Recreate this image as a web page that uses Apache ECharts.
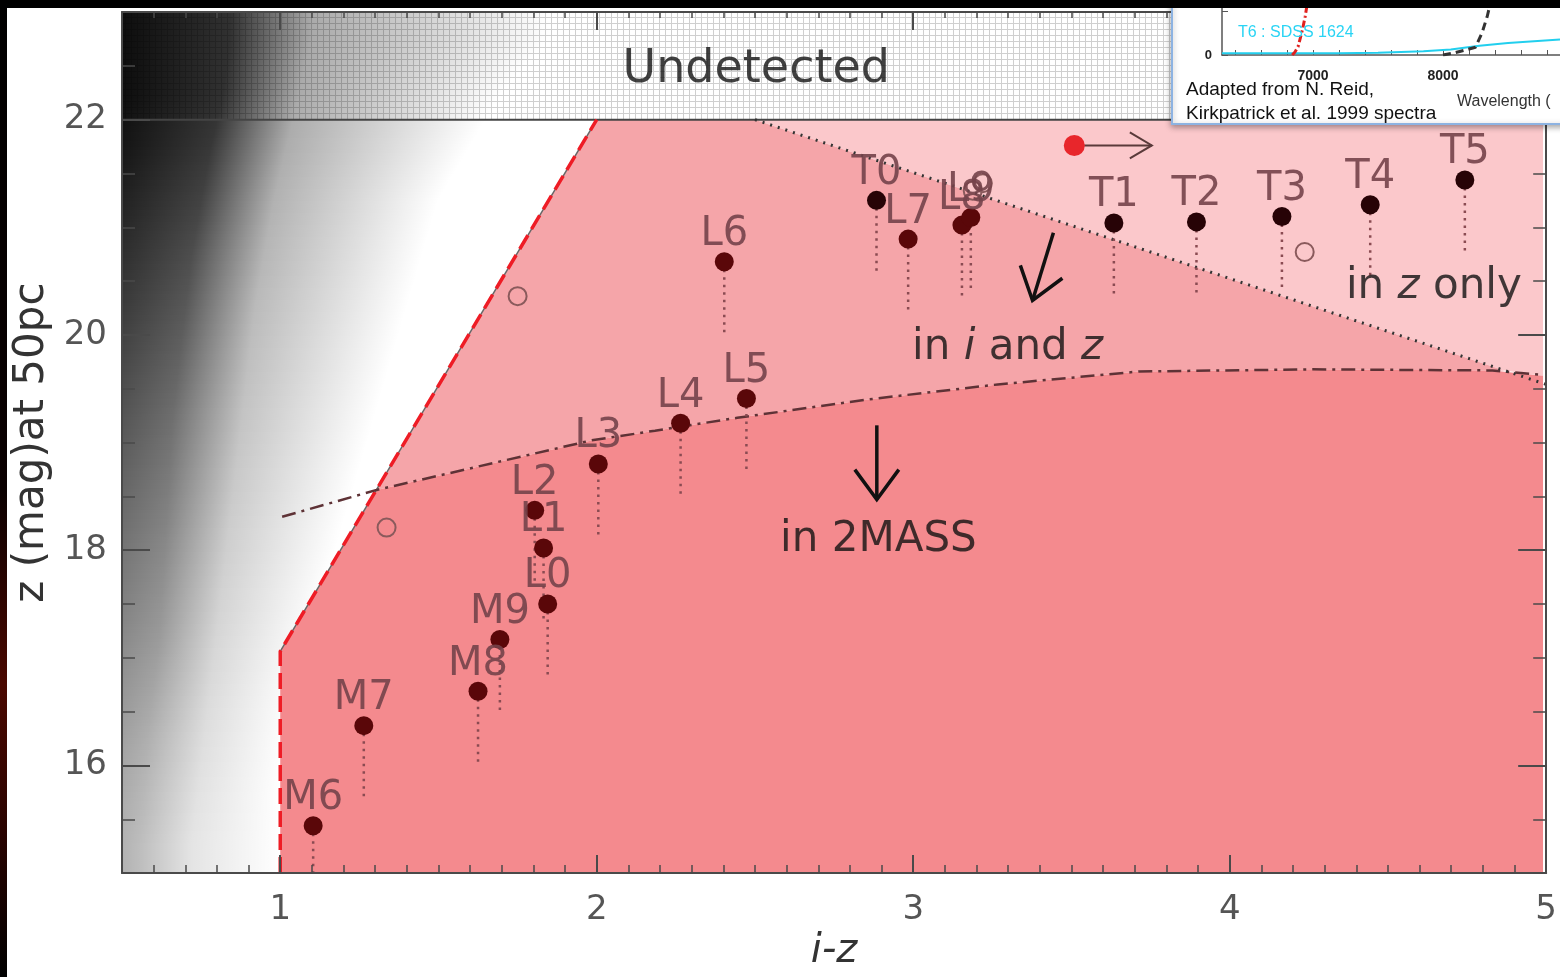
<!DOCTYPE html>
<html><head><meta charset="utf-8">
<script src="https://cdn.jsdelivr.net/npm/echarts@6/dist/echarts.min.js"></script>
<style>html,body{margin:0;padding:0;background:#fff;overflow:hidden;width:100%;height:100%}#c{width:100vw;height:100vh;}</style>
</head><body><div id="c"></div>
<script>
// ---------------- data ----------------
const xTickValues = [1, 2, 3, 4, 5];
const yTickValues = [16, 18, 20, 22];

// M and L dwarfs: i-z, z at 50pc, bottom of dotted drop
const mlNames = ['M6','M7','M8','M9','L0','L1','L2','L3','L4','L5','L6','L7','L8','L9'];
const mlIZ    = [1.104,1.264,1.625,1.694,1.845,1.832,1.804,2.005,2.265,2.473,2.403,2.984,3.154,3.182];
const mlZ     = [15.44,16.37,16.69,17.17,17.50,18.02,18.37,18.80,19.18,19.41,20.68,20.89,21.02,21.09];
const mlZLow  = [14.76,15.69,16.01,16.49,16.82,17.34,17.69,18.12,18.50,18.73,20.00,20.21,20.34,20.41];
// T dwarfs
const tNames = ['T0','T1','T2','T3','T4','T5'];
const tIZ    = [2.884,3.634,3.895,4.165,4.444,4.743];
const tZ     = [21.25,21.04,21.05,21.10,21.21,21.44];
const tZLow  = [20.57,20.36,20.37,20.42,20.53,20.76];
// open circles
const openIZ = [1.336,1.750,3.188,3.220,4.237];
const openZ  = [18.21,20.36,21.34,21.41,20.77];
// red point with arrow
const redIZ = [3.509];
const redZ  = [21.76];

// region boundaries
const detectBoundary = [[1.0,15.0],[1.0,17.06],[2.0,22.0]];
const diagBoundary = [[1.0,17.06],[2.0,22.0]];
const twoMassCurve = [[1.006,18.31],[1.305,18.56],[1.983,19.02],[2.184,19.11],[2.444,19.23],[2.856,19.40],[3.267,19.54],[3.713,19.66],[4.256,19.68],[4.830,19.67],[4.981,19.63]];
const zOnlyLine = [[2.5,22.0],[5.0,19.54]];
const undetectedLimit = [[0.5,22.0],[5.0,22.0]];
const regionDark = [[1.0,15.0],[1.0,17.06],[1.305,18.56],[1.983,19.02],[2.184,19.11],[2.444,19.23],[2.856,19.40],[3.267,19.54],[3.713,19.66],[4.256,19.68],[4.830,19.67],[4.99,19.62],[4.99,15.0]];
const regionMid = [[1.305,18.56],[2.0,22.0],[2.5,22.0],[4.868,19.67],[4.830,19.67],[4.256,19.68],[3.713,19.66],[3.267,19.54],[2.856,19.40],[2.444,19.23],[2.184,19.11],[1.983,19.02]];
const regionLight = [[2.5,22.0],[4.99,22.0],[4.99,19.62],[4.868,19.67]];
const regionUndetected = [[0.5,22.0],[5.0,23.0]];

// field-star density (band centres in z; x where the density falls off)
const starZ    = [15.25,15.75,16.25,16.75,17.25,17.75,18.25,18.75,19.25,19.75,20.25,20.75,21.25,21.75,22.25,22.75];
const starPeak = [0.30,0.33,0.37,0.42,0.47,0.52,0.57,0.62,0.67,0.72,0.77,0.82,0.87,0.92,0.95,0.95];
const starDark = [0.56,0.57,0.58,0.60,0.62,0.63,0.64,0.65,0.66,0.68,0.70,0.72,0.75,0.78,0.82,0.84];
const starGray = [0.72,0.74,0.76,0.78,0.80,0.82,0.84,0.86,0.88,0.90,0.92,0.95,0.98,1.02,1.06,1.10];
const starEnd  = [1.00,1.00,1.02,1.05,1.10,1.15,1.20,1.25,1.30,1.35,1.40,1.45,1.50,1.60,1.70,1.85];

// arrows [x1,y1,x2,y2]
const arrowX1 = [3.54, 3.443, 2.885];
const arrowY1 = [21.76, 20.95, 19.16];
const arrowX2 = [3.754, 3.377, 2.885];
const arrowY2 = [21.76, 20.32, 18.47];

// annotations
const annoText = ['Undetected', 'in {it|i} and {it|z}', 'in 2MASS', 'in {it|z} only'];
const annoIZ = [2.504, 3.298, 2.89, 4.645];
const annoZ  = [22.46, 19.88, 18.09, 20.44];

// inset spectrum
const insetXTicks = [6400,6600,6800,7000,7200,7400,7600,7800,8000,8200,8400,8600,8800];
const insetXLabels = [7000, 8000];
const insetYTicks = [0, 0.8];
const insetYLabels = [0];
const specT6 = [[6300,0.03],[6800,0.03],[7200,0.03],[7500,0.04],[7850,0.07],[8060,0.10],[8280,0.17],[8500,0.22],[8900,0.28]];
const specRed = [[6840,0.0],[6860,0.05],[6885,0.15],[6918,0.45],[6940,0.70],[6960,1.0],[6970,1.1]];
const specBlack = [[8000,0.0],[8090,0.04],[8250,0.14],[8300,0.40],[8340,0.70],[8370,1.0],[8380,1.1]];

// ---------------- styles ----------------
const FONT = '"DejaVu Sans", sans-serif';
const AX = '#4a4a4a';
const chart = echarts.init(document.getElementById('c'), null, {renderer: 'canvas'});

const hatch = document.createElement('canvas');
hatch.width = 6; hatch.height = 6;
(function(){
  const g = hatch.getContext('2d');
  g.fillStyle = '#fff'; g.fillRect(0,0,6,6);
  g.fillStyle = '#cfcfcf'; g.fillRect(5,0,1,6); g.fillRect(0,5,6,1);
})();

function polySeries(points, fill, z) {
  return {type:'custom', coordinateSystem:'cartesian2d', z, silent:true, clip:true, data:[0],
    renderItem: (p, api) => ({type:'polygon', shape:{points: points.map(q => api.coord(q))}, style:{fill}})};
}
function lineSeries(data, color, width, type, z, xi, yi) {
  return {type:'line', data, z, symbol:'none', silent:true, xAxisIndex: xi||0, yAxisIndex: yi||0,
    lineStyle:{color, width, type, cap:'butt'}, animation:false};
}

const mainX = (pos, major) => ({
  type:'value', gridIndex:0, position:pos, min:0.5, max:5, z:6,
  interval: major ? undefined : 0.1,
  axisLine:{show: major, lineStyle:{color:AX, width:2}},
  axisTick: major ? {show:true, inside:true, length:18, customValues:xTickValues, lineStyle:{color:AX, width:2}}
                  : {show:true, inside:true, length: pos==='bottom'?8:6, lineStyle:{color:AX, width:1.5}},
  axisLabel: (major && pos==='bottom') ? {show:true, customValues:xTickValues, margin:20, fontSize:34, color:'#555', fontFamily:FONT} : {show:false},
  splitLine:{show:false},
  name: (major && pos==='bottom') ? 'i-z' : '',
  nameLocation:'middle', nameGap:48,
  nameTextStyle:{fontSize:40, fontStyle:'italic', color:'#333', fontFamily:FONT}
});
const mainY = (pos, major) => ({
  type:'value', gridIndex:0, position:pos, min:15, max:23, z:6,
  interval: major ? undefined : 0.5,
  axisLine:{show: major, lineStyle:{color:AX, width:2}},
  axisTick: major ? {show:true, inside:true, length:28, customValues:yTickValues, lineStyle:{color:AX, width:2}}
                  : {show:true, inside:true, length:13, lineStyle:{color:AX, width:1.5}},
  axisLabel: (major && pos==='left') ? {show:true, customValues:yTickValues, margin:15, fontSize:34, color:'#555', fontFamily:FONT} : {show:false},
  splitLine:{show:false},
  name: (major && pos==='left') ? 'z (mag)at 50pc' : '',
  nameLocation:'middle', nameGap:50, nameRotate:90,
  nameTextStyle:{fontSize:42, color:'#333', fontFamily:FONT}
});

const arrowStyles = [
  {stroke:'#5a3a3a', lineWidth:2, head:22, half:13},
  {stroke:'#111', lineWidth:3.5, head:30, half:22},
  {stroke:'#111', lineWidth:3.5, head:30, half:22}
];
const annoStyles = [
  {fontSize:46},{fontSize:42},{fontSize:42},{fontSize:42}
];

function interpAt(arr, y) {
  const n = starZ.length;
  if (y <= starZ[0]) return arr[0];
  if (y >= starZ[n-1]) return arr[n-1];
  let i = 0; while (starZ[i+1] < y) i++;
  const t = (y - starZ[i]) / (starZ[i+1] - starZ[i]);
  return arr[i] + (arr[i+1] - arr[i]) * t;
}

const series = [];
// undetected hatched zone
series.push({type:'custom', coordinateSystem:'cartesian2d', z:1, silent:true, clip:true, data:[0],
  renderItem:(p, api) => {
    const a = api.coord(regionUndetected[0]), b = api.coord(regionUndetected[1]);
    return {type:'rect', shape:{x:a[0], y:b[1], width:b[0]-a[0], height:a[1]-b[1]}, style:{fill:{image:hatch, repeat:'repeat'}}};
  }});
// field star density (smooth shading drawn row by row from the band values)
series.push({type:'custom', coordinateSystem:'cartesian2d', z:2, silent:true, clip:true, data:[0],
  renderItem:(p, api) => {
    const yTop = api.coord([0.5, 23])[1], yBot = api.coord([0.5, 15])[1];
    const x0 = api.coord([0.5, 15])[0];
    const children = [];
    for (let py = Math.round(yTop); py < yBot; py += 3) {
      const zc = api.coord ? null : null;
      const yv = 23 - (py + 1.5 - yTop) / (yBot - yTop) * 8;
      const pk = interpAt(starPeak, yv), xd = interpAt(starDark, yv), xg = interpAt(starGray, yv), xe = interpAt(starEnd, yv);
      const xEndPx = api.coord([xe, yv])[0];
      const w = xEndPx - x0;
      const f = x => Math.min(1, Math.max(0, (api.coord([x, yv])[0] - x0) / w));
      children.push({type:'rect', shape:{x:x0, y:py, width:w, height:Math.min(3, yBot-py)},
        style:{fill:{type:'linear', x:0, y:0, x2:1, y2:0, colorStops:[
          {offset:0, color:`rgba(0,0,0,${pk})`},
          {offset:f(xd), color:`rgba(0,0,0,${pk*0.85})`},
          {offset:f(xg), color:`rgba(0,0,0,${pk*0.35})`},
          {offset:1, color:'rgba(0,0,0,0)'}]}}});
    }
    return {type:'group', children};
  }});
// regions
series.push(polySeries(regionLight, '#fbc8cb', 3));
series.push(polySeries(regionMid, '#f5a5a9', 3));
series.push(polySeries(regionDark, '#f48a8e', 3));
// lines
series.push(lineSeries(undetectedLimit, '#444', 2, 'solid', 4));
series.push(lineSeries(diagBoundary, '#666', 1.5, 'solid', 4));
series.push(lineSeries(detectBoundary, '#ee1c25', 3.5, [16,7], 5));
series.push(lineSeries(twoMassCurve, '#5e3236', 2.5, [14,6,3,6], 5));
series.push(lineSeries(zOnlyLine, '#333', 3, [2,6], 5));
// dotted drops
series.push({type:'custom', coordinateSystem:'cartesian2d', z:6, silent:true, clip:true,
  data: mlIZ.map((x,i)=>[x, mlZ[i], mlZLow[i]]).concat(tIZ.map((x,i)=>[x, tZ[i], tZLow[i]])),
  renderItem:(p, api) => {
    const a = api.coord([api.value(0), api.value(1)]), b = api.coord([api.value(0), api.value(2)]);
    return {type:'line', shape:{x1:a[0], y1:a[1]+8, x2:b[0], y2:b[1]}, style:{stroke:'#8a4b52', lineWidth:2.5, lineDash:[2.5,5]}};
  }});
// open circles
series.push({type:'scatter', z:7, silent:true, symbol:'circle', symbolSize:18,
  data: openIZ.map((x,i)=>[x, openZ[i]]),
  itemStyle:{color:'rgba(0,0,0,0)', borderColor:'#8a5a5c', borderWidth:2, opacity:1}});
// spectral types
const typeLabel = {show:true, formatter:p=>p.name, position:'inside', offset:[0,-27], fontSize:40, color:'#74434a', opacity:0.9, fontFamily:FONT};
series.push({type:'scatter', z:8, silent:true, symbolSize:19,
  data: mlNames.map((n,i)=>({name:n, value:[mlIZ[i], mlZ[i]]})),
  itemStyle:{color:'#5a0709', opacity:1}, label:typeLabel});
series.push({type:'scatter', z:8, silent:true, symbolSize:19,
  data: tNames.map((n,i)=>({name:n, value:[tIZ[i], tZ[i]]})),
  itemStyle:{color:'#270306', opacity:1}, label:typeLabel});
series.push({type:'scatter', z:8, silent:true, symbolSize:21,
  data: redIZ.map((x,i)=>[x, redZ[i]]), itemStyle:{color:'#e8262b', opacity:1}});
// arrows
series.push({type:'custom', coordinateSystem:'cartesian2d', z:8, silent:true,
  data: arrowX1.map((x,i)=>[x, arrowY1[i], arrowX2[i], arrowY2[i]]),
  renderItem:(p, api) => {
    const st = arrowStyles[p.dataIndex];
    const a = api.coord([api.value(0), api.value(1)]), b = api.coord([api.value(2), api.value(3)]);
    const ang = Math.atan2(b[1]-a[1], b[0]-a[0]);
    const c = Math.cos(ang), s = Math.sin(ang);
    const L = st.head, h = st.half;
    const l = [b[0]-L*c+h*s, b[1]-L*s-h*c], r = [b[0]-L*c-h*s, b[1]-L*s+h*c];
    return {type:'group', children:[
      {type:'line', shape:{x1:a[0], y1:a[1], x2:b[0], y2:b[1]}, style:{stroke:st.stroke, lineWidth:st.lineWidth}},
      {type:'polyline', shape:{points:[l, b, r]}, style:{stroke:st.stroke, lineWidth:st.lineWidth, fill:'none', lineJoin:'miter'}}
    ]};
  }});
// annotations
series.push({type:'scatter', z:9, silent:true, symbolSize:1, itemStyle:{color:'rgba(0,0,0,0)'},
  data: annoText.map((t,i)=>({name:t, value:[annoIZ[i], annoZ[i]],
    label:{show:true, position:'inside', formatter:t, fontSize:annoStyles[i].fontSize, color:'#111', fontFamily:FONT,
      rich:{it:{fontStyle:'italic', fontSize:annoStyles[i].fontSize, color:'#111', fontFamily:FONT}}}}))});
// inset spectrum
series.push(Object.assign(lineSeries(specT6, '#22cfee', 2, 'solid', 12, 4, 4), {clip:true}));
series.push(Object.assign(lineSeries(specRed, '#e0201e', 3, [7,3,2,3], 12, 4, 4), {clip:true}));
series.push(Object.assign(lineSeries(specBlack, '#333', 3, [8,5], 12, 4, 4), {clip:true}));

const option = {
  animation:false,
  backgroundColor:'#ffffff',
  grid:[{left:122, top:12, width:1433, height:864}, {left:1222, top:0, width:400, height:55}],
  xAxis:[mainX('bottom', true), mainX('bottom', false), mainX('top', true), mainX('top', false),
    {type:'value', gridIndex:1, min:6300, max:8900, z:12,
     axisLine:{show:true, lineStyle:{color:'#555', width:1.5}},
     axisTick:{show:true, inside:true, length:5, customValues:insetXTicks, lineStyle:{color:'#555'}},
     axisLabel:{show:true, customValues:insetXLabels, formatter:v=>String(v), margin:14, fontSize:14, fontWeight:'bold', color:'#222', fontFamily:'"Liberation Sans", sans-serif'},
     splitLine:{show:false}}],
  yAxis:[mainY('left', true), mainY('left', false), mainY('right', true), mainY('right', false),
    {type:'value', gridIndex:1, min:0, max:1, z:12,
     axisLine:{show:true, lineStyle:{color:'#555', width:1.5}},
     axisTick:{show:true, inside:true, length:6, customValues:insetYTicks, lineStyle:{color:'#555'}},
     axisLabel:{show:true, customValues:insetYLabels, formatter:v=>String(v), margin:10, fontSize:13, fontWeight:'bold', color:'#222', fontFamily:'"Liberation Sans", sans-serif'},
     splitLine:{show:false}}],
  series,
  graphic:[
    {type:'rect', z:100, silent:true, shape:{x:0, y:0, width:1560, height:8}, style:{fill:'#000'}},
    {type:'rect', z:100, silent:true, shape:{x:0, y:0, width:7, height:977},
      style:{fill:{type:'linear', x:0, y:0, x2:0, y2:1, colorStops:[
        {offset:0, color:'#000'},{offset:0.5, color:'#0a0000'},{offset:0.7, color:'#4a0800'},{offset:0.85, color:'#2a0300'},{offset:1, color:'#000'}]}}},
    {type:'rect', z:10, silent:true, shape:{x:1172, y:-4, width:400, height:128},
      style:{fill:'#fff', stroke:'#8db3e2', lineWidth:2, shadowBlur:6, shadowColor:'rgba(0,0,0,0.35)', shadowOffsetY:2}},
    {type:'text', z:13, silent:true, x:1238, y:33, style:{text:'T6 : SDSS 1624', fill:'#2ad4f4', fontSize:16, fontFamily:'"Liberation Sans", sans-serif', verticalAlign:'middle'}},
    {type:'text', z:13, silent:true, x:1186, y:90, style:{text:'Adapted from N. Reid,', fill:'#111', fontSize:19, fontFamily:'"Liberation Sans", sans-serif', verticalAlign:'middle'}},
    {type:'text', z:13, silent:true, x:1186, y:114, style:{text:'Kirkpatrick et al. 1999 spectra', fill:'#111', fontSize:19, fontFamily:'"Liberation Sans", sans-serif', verticalAlign:'middle'}},
    {type:'text', z:13, silent:true, x:1457, y:102, style:{text:'Wavelength (', fill:'#333', fontSize:16, fontFamily:'"Liberation Sans", sans-serif', verticalAlign:'middle'}}
  ]
};
chart.setOption(option);
</script></body></html>
